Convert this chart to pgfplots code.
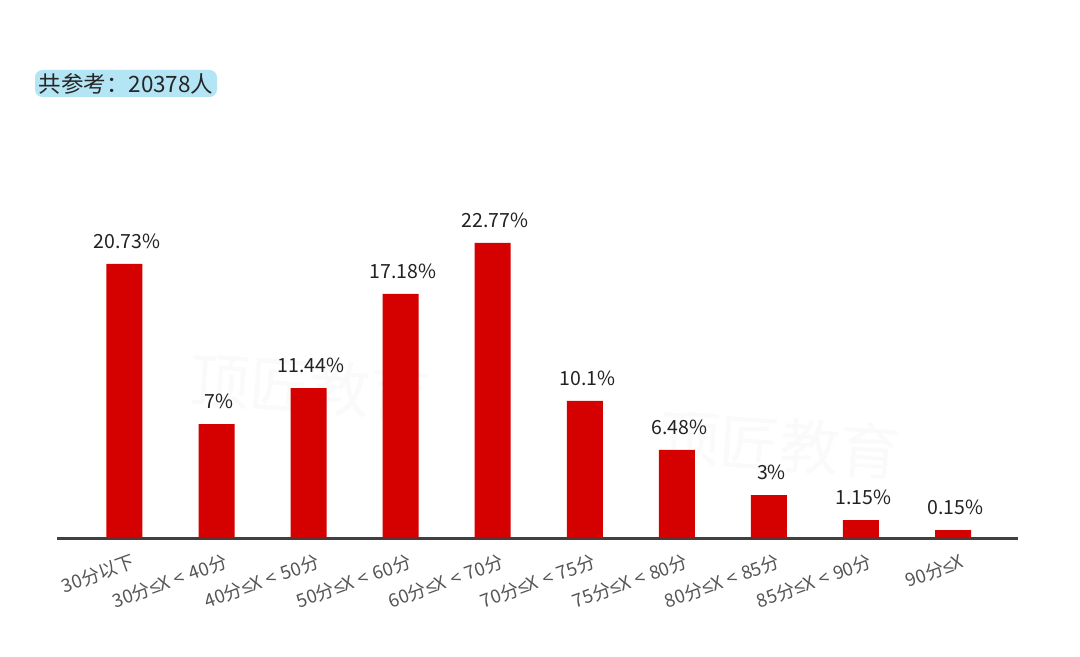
\documentclass[border=0pt]{standalone}
\usepackage{pgfplots}
\pgfplotsset{compat=1.18}
\usepackage{pgfplotstable}
\usepackage{fontspec}
\setmainfont{Noto Sans CJK SC}
\newfontfamily\lat{Liberation Sans}
\newcommand{\lblgap}{\hspace{0.3em}}
\definecolor{barred}{HTML}{D50000}
\definecolor{boxblue}{HTML}{B3E5F5}
\definecolor{ticktext}{HTML}{555555}
\definecolor{valtext}{HTML}{222222}

% x  h = bar height as drawn (%), val = printed label
\pgfplotstableread{
x h     val
0 20.92 20.73
1 8.70  7
2 11.45 11.44
3 18.63 17.18
4 22.52 22.77
5 10.46 10.1
6 6.72  6.48
7 3.28  3
8 1.37  1.15
9 0.61  0.15
}\scores

\begin{document}
\begin{tikzpicture}
% 1 px of the reference = 0.4pt
\fill[white] (0,0) rectangle (432pt,262.8pt);
\useasboundingbox (0,0) rectangle (432pt,262.8pt);
% watermark
\node[text=gray!4, font=\fontsize{24}{24}\selectfont, rotate=-4] at (124pt,108pt) {顶匠教育};
\node[text=gray!4, font=\fontsize{24}{24}\selectfont, rotate=-4] at (312pt,85pt) {顶匠教育};
% title box
\node[fill=boxblue, rounded corners=3pt, minimum width=72.8pt, minimum height=10.8pt,
      inner sep=1pt, text=black!85, font=\fontsize{9}{10}\selectfont]
      at (50.4pt,229.4pt) {共参考：20378人};
\begin{axis}[
    at={(22.8pt,47.6pt)}, anchor=south west,
    scale only axis,
    width=384.4pt, height=131pt,
    xmin=-0.733, xmax=9.706,
    ymin=0, ymax=25,
    hide y axis,
    axis x line*=bottom,
    axis line style={draw=black!75, line width=1.2pt},
    major tick length=0pt,
    xtick=data,
    xticklabels={30分以下,30分{\lat ≤}X\lblgap<\lblgap40分,40分{\lat ≤}X\lblgap<\lblgap50分,50分{\lat ≤}X\lblgap<\lblgap60分,60分{\lat ≤}X\lblgap<\lblgap70分,70分{\lat ≤}X\lblgap<\lblgap75分,75分{\lat ≤}X\lblgap<\lblgap80分,80分{\lat ≤}X\lblgap<\lblgap85分,85分{\lat ≤}X\lblgap<\lblgap90分,90分{\lat ≤}X},
    xticklabel style={rotate=20, anchor=north east, text=ticktext,
        font=\fontsize{7.4}{8}\selectfont, xshift=4pt, yshift=-3pt},
    ybar, bar width=14.4pt,
    point meta=explicit,
    nodes near coords={\pgfmathprintnumber[assume math mode=true]{\pgfplotspointmeta}\%},
    every node near coord/.append style={text=valtext, font=\fontsize{7.8}{9}\selectfont, yshift=2.5pt, xshift=1pt},
    clip=false,
]
\addplot[fill=barred, draw=none] table[x=x, y=h, meta=val] {\scores};
\end{axis}
\end{tikzpicture}
\end{document}
